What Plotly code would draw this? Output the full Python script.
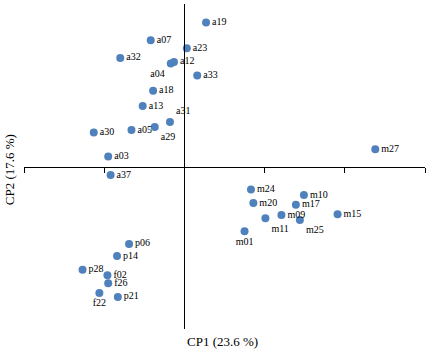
import plotly.graph_objects as go

labels = ["a19", "a07", "a23", "a32", "a12", "a04", "a33", "a18", "a13", "a31",
          "a29", "a05", "a30", "a03", "a37", "m27", "m24", "m20", "m10", "m17",
          "m09", "m25", "m11", "m15", "m01", "p06", "p14", "p28", "f02", "f26",
          "f22", "p21"]
cp1 = [0.27, -0.42, 0.03, -0.80, -0.13, -0.17, 0.16, -0.39, -0.52, -0.18,
       -0.37, -0.66, -1.13, -0.95, -0.92, 2.38, 0.83, 0.86, 1.49, 1.39,
       1.21, 1.44, 1.01, 1.91, 0.75, -0.69, -0.84, -1.27, -0.96, -0.95,
       -1.06, -0.83]
cp2 = [1.80, 1.58, 1.48, 1.36, 1.31, 1.29, 1.14, 0.95, 0.76, 0.56,
       0.50, 0.46, 0.43, 0.13, -0.10, 0.22, -0.28, -0.45, -0.35, -0.47,
       -0.60, -0.66, -0.64, -0.59, -0.80, -0.96, -1.11, -1.28, -1.35, -1.45,
       -1.57, -1.62]

x_title = "CP1 (23.6 %)"
y_title = "CP2 (17.6 %)"

special_pos = {"a04": "bottom left", "a31": "top right", "a29": "bottom right",
               "m11": "bottom right", "m01": "bottom center", "f22": "bottom center",
               "m25": "bottom right"}
positions = [special_pos.get(l, "middle right") for l in labels]

xr = [-2, 3]
yr = [-2.02, 2.032]

fig = go.Figure()
fig.add_trace(go.Scatter(
    x=cp1, y=cp2, mode="markers+text", text=labels, textposition=positions,
    marker=dict(size=8, color="#4F81BD"),
    textfont=dict(family="Liberation Serif", size=10, color="#000000"),
    hoverinfo="skip", cliponaxis=False, showlegend=False,
))

fig.update_layout(
    width=428, height=349,
    margin=dict(l=24, r=3, t=4, b=20, autoexpand=False),
    paper_bgcolor="white", plot_bgcolor="white",
    xaxis=dict(range=xr, dtick=1, tick0=0, showgrid=False, zeroline=False,
               showline=True, linecolor="black", linewidth=1,
               ticks="outside", ticklen=5, tickcolor="black", tickwidth=1,
               showticklabels=False, anchor="free",
               position=(0 - yr[0]) / (yr[1] - yr[0])),
    yaxis=dict(range=yr, showgrid=False, zeroline=False,
               showline=True, linecolor="black", linewidth=1,
               ticks="", showticklabels=False, anchor="free",
               position=(0 - xr[0]) / (xr[1] - xr[0])),
    font=dict(family="Liberation Serif", color="black"),
    annotations=[
        dict(text=x_title, x=0.4, y=0, xref="paper", yref="paper",
             xanchor="left", yanchor="top", yshift=-3, xshift=1, showarrow=False,
             font=dict(size=13, family="Liberation Serif")),
        dict(text=y_title, x=0, y=0.49, xref="paper", yref="paper",
             xanchor="right", yanchor="middle", xshift=-5, textangle=-90,
             showarrow=False, font=dict(size=13, family="Liberation Serif")),
    ],
)

fig.write_html("out.html", config={"displayModeBar": False},
               post_script="document.body.style.margin='0';document.body.style.overflow='hidden';")
